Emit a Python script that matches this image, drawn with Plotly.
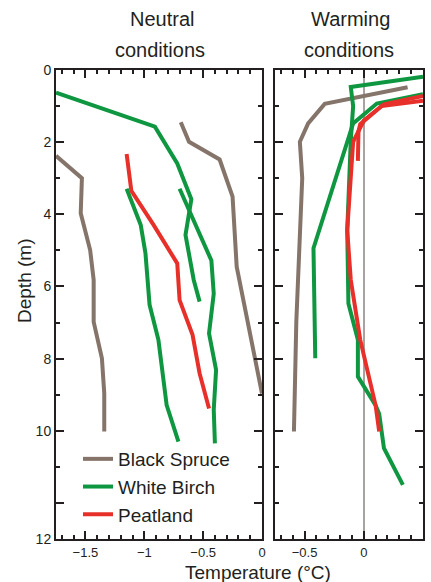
import plotly.graph_objects as go

W, H = 431, 582

# ---------------- data (temperature °C, depth m) ----------------
# Neutral conditions
spruce_n1_t = [-1.75, -1.53, -1.54, -1.46, -1.43, -1.43, -1.36, -1.34, -1.34]
spruce_n1_d = [2.38, 3.0, 3.97, 4.99, 5.82, 6.98, 7.99, 8.96, 10.02]
spruce_n2_t = [-0.69, -0.62, -0.36, -0.25, -0.215, 0.0]
spruce_n2_d = [1.45, 1.99, 2.48, 3.51, 5.45, 8.97]

birch_n1_t = [-1.75, -0.91, -0.72, -0.60, -0.65, -0.58, -0.53]
birch_n1_d = [0.63, 1.57, 2.59, 3.58, 4.57, 5.82, 6.42]
birch_n2_t = [-0.70, -0.43, -0.41, -0.45, -0.39, -0.41, -0.40]
birch_n2_d = [3.29, 5.28, 6.2, 7.3, 8.31, 9.42, 10.35]
birch_n3_t = [-1.15, -1.03, -0.99, -0.97, -0.955, -0.88, -0.81, -0.71]
birch_n3_d = [3.29, 4.3, 5.08, 5.82, 6.51, 7.48, 9.29, 10.3]

peat_n_t = [-1.15, -1.11, -0.92, -0.72, -0.70, -0.59, -0.53, -0.45]
peat_n_d = [2.33, 3.35, 4.3, 5.36, 6.38, 7.34, 8.41, 9.38]

# Warming conditions
spruce_w_t = [0.37, -0.33, -0.47, -0.54, -0.52, -0.55, -0.57, -0.59]
spruce_w_d = [0.48, 0.94, 1.48, 1.99, 3.0, 5.82, 6.98, 10.02]

birch_w1_t = [0.5, -0.11, -0.09, -0.11, -0.14, -0.13, -0.13, -0.05, -0.05, 0.10, 0.13, 0.17, 0.33]
birch_w1_d = [0.19, 0.47, 1.0, 1.96, 4.45, 5.82, 6.47, 7.48, 8.5, 9.3, 9.53, 10.48, 11.5]
birch_w2_t = [0.5, 0.11, -0.09, -0.425, -0.41]
birch_w2_d = [0.67, 0.93, 1.48, 4.94, 7.99]

peat_w1_t = [0.5, 0.17, 0.0, -0.09, -0.14, -0.11, -0.03, 0.10, 0.13]
peat_w1_d = [0.72, 0.95, 1.4, 1.99, 4.44, 5.82, 7.48, 9.3, 10.02]
peat_w2_t = [0.5, 0.15, -0.03, -0.045, -0.05]
peat_w2_d = [0.85, 1.0, 1.5, 1.7, 2.52]

series_names = ["Black Spruce", "White Birch", "Peatland"]
colors = {"Black Spruce": "#85746a", "White Birch": "#0e9740", "Peatland": "#e8302a"}

y_tickvals = [0, 2, 4, 6, 8, 10, 12, 13]
y_ticktext = ["0", "2", "4", "6", "8", "10", "", "12"]

FONT = "Liberation Sans, Arial, sans-serif"
INK = "#231f20"

fig = go.Figure()

profiles = [
    ("Black Spruce", spruce_n1_t, spruce_n1_d, "x", "y"),
    ("Black Spruce", spruce_n2_t, spruce_n2_d, "x", "y"),
    ("White Birch", birch_n1_t, birch_n1_d, "x", "y"),
    ("White Birch", birch_n2_t, birch_n2_d, "x", "y"),
    ("White Birch", birch_n3_t, birch_n3_d, "x", "y"),
    ("Peatland", peat_n_t, peat_n_d, "x", "y"),
    ("Black Spruce", spruce_w_t, spruce_w_d, "x2", "y2"),
    ("White Birch", birch_w1_t, birch_w1_d, "x2", "y2"),
    ("White Birch", birch_w2_t, birch_w2_d, "x2", "y2"),
    ("Peatland", peat_w1_t, peat_w1_d, "x2", "y2"),
    ("Peatland", peat_w2_t, peat_w2_d, "x2", "y2"),
]

shown = set()
for name, t, d, xa, ya in profiles:
    fig.add_trace(go.Scatter(
        x=t, y=d, mode="lines", name=name, legendgroup=name,
        showlegend=name not in shown,
        line=dict(color=colors[name], width=4),
        xaxis=xa, yaxis=ya,
    ))
    shown.add(name)

def xax(domain, rng, zeroline, anchor):
    return dict(
        domain=domain, range=rng, anchor=anchor,
        tickmode="linear", tick0=0, dtick=0.5,
        ticks="inside", ticklen=8, tickwidth=1.5, tickcolor=INK,
        minor=dict(dtick=0.1, tick0=0, ticks="inside", ticklen=4, tickwidth=1.5, tickcolor=INK),
        showline=True, linewidth=2, linecolor=INK, mirror="ticks",
        showgrid=False, zeroline=zeroline, zerolinecolor="#a8a2a0", zerolinewidth=1.5,
        tickfont=dict(family=FONT, size=13, color=INK),
        fixedrange=True,
    )

def yax(domain, labels, anchor):
    return dict(
        domain=domain, range=[13, 0], anchor=anchor,
        tickmode="array", tickvals=y_tickvals, ticktext=y_ticktext,
        showticklabels=labels,
        ticks="inside", ticklen=8, tickwidth=1.5, tickcolor=INK,
        minor=dict(dtick=1, tick0=0, ticks="inside", ticklen=4, tickwidth=1.5, tickcolor=INK),
        showline=True, linewidth=2, linecolor=INK, mirror="ticks",
        showgrid=False, zeroline=False,
        tickfont=dict(family=FONT, size=14, color=INK),
        fixedrange=True,
    )

ydom = [1 - 539 / H, 1 - 70 / H]
fig.update_layout(
    width=W, height=H,
    margin=dict(l=0, r=0, t=0, b=0, autoexpand=False),
    paper_bgcolor="white", plot_bgcolor="white",
    font=dict(family=FONT, color=INK),
    xaxis=xax([56 / W, 262 / W], [-1.75, 0], False, "y"),
    xaxis2=xax([275 / W, 423 / W], [-0.75, 0.5], True, "y2"),
    yaxis=yax(ydom, True, "x"),
    yaxis2=yax(ydom, False, "x2"),
    showlegend=True,
    legend=dict(
        x=78 / W, y=1 - 440 / H, xanchor="left", yanchor="top",
        bgcolor="rgba(0,0,0,0)", borderwidth=0,
        font=dict(family=FONT, size=19, color=INK),
        tracegroupgap=0, itemwidth=30,
    ),
)

def label(text, xpx, ypx, size, angle=0):
    fig.add_annotation(
        text=text, x=xpx / W, y=1 - ypx / H, xref="paper", yref="paper",
        xanchor="center", yanchor="middle", showarrow=False, textangle=angle,
        font=dict(family=FONT, size=size, color=INK),
    )

label("Neutral", 162, 19, 20)
label("conditions", 160, 50, 20)
label("Warming", 350, 19, 20)
label("conditions", 349, 50, 20)
label("Temperature (°C)", 258, 572, 19)
label("Depth (m)", 24, 281, 19, angle=-90)

fig.write_html(
    "out.html",
    config={"displayModeBar": False},
    post_script="document.body.style.margin='0';document.body.style.overflow='hidden';",
)
